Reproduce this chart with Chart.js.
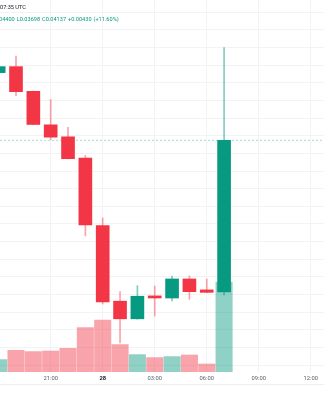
<!DOCTYPE html>
<html>
<head>
<meta charset="utf-8">
<script src="https://cdn.jsdelivr.net/npm/chart.js@4.4.1/dist/chart.umd.min.js"></script>
<style>
  html, body { margin: 0; padding: 0; background: #fff; }
  #wrap { position: relative; width: 324px; height: 400px; overflow: hidden; }
  .hdr { position: absolute; left: 0; font-family: Roboto, "Liberation Sans", sans-serif; font-size: 5.6px; white-space: nowrap; }
  #l1 { top: 3.5px; color: #131722; }
  #l2 { top: 15.5px; left: -1px; color: #089981; word-spacing: 0.6px; }
</style>
</head>
<body>
<div id="wrap">
  <canvas id="chart" width="324" height="400"></canvas>
  <div class="hdr" id="l1">07:35 UTC</div>
  <div class="hdr" id="l2">04400 L0.03698 C0.04137 +0.00430 (+11.60%)</div>
</div>
<script>
// hourly candles, hour 0 = 28th 00:00 UTC
const hours  = [-6, -5, -4, -3, -2, -1, 0, 1, 2, 3, 4, 5, 6, 7];
const opens  = [0.04329, 0.04346, 0.04276, 0.04181, 0.04147, 0.04087, 0.03895, 0.03681, 0.03631, 0.03696, 0.03690, 0.03744, 0.03713, 0.03707];
const highs  = [0.04352, 0.04376, 0.04277, 0.04253, 0.04174, 0.04094, 0.03917, 0.03708, 0.03725, 0.03724, 0.03752, 0.03753, 0.03744, 0.04400];
const lows   = [0.04325, 0.04264, 0.04181, 0.04139, 0.04084, 0.03866, 0.03673, 0.03563, 0.03630, 0.03639, 0.03682, 0.03686, 0.03705, 0.03698];
const closes = [0.04346, 0.04275, 0.04182, 0.04146, 0.04085, 0.03897, 0.03679, 0.03631, 0.03695, 0.03690, 0.03744, 0.03708, 0.03706, 0.04137];
const volumes = [124, 217, 204, 210, 237, 444, 520, 274, 174, 144, 154, 170, 80, 900];

const UP = "#089981";
const DOWN = "#F23645";
const FONT = "Roboto, 'Liberation Sans', sans-serif";

const isUp = closes.map((c, i) => c >= opens[i]);
const candleColors = isUp.map(u => u ? UP : DOWN);
// thin wicks look washed out in the screenshot
const wickColors = isUp.map(u => u ? "rgba(8,153,129,0.5)" : "rgba(242,54,69,0.45)");
const volColors = isUp.map(u => u ? "rgba(8,153,129,0.45)" : "rgba(242,54,69,0.45)");
const lastClose = closes[closes.length - 1];

const separator = {
    id: "separator",
    afterDraw(chart) {
        const c = chart.ctx;
        c.save();
        c.strokeStyle = "#eceef1";
        c.lineWidth = 1;
        c.beginPath();
        c.moveTo(0, 384.5);
        c.lineTo(chart.width, 384.5);
        c.stroke();
        c.restore();
    }
};

new Chart(document.getElementById("chart"), {
    type: "bar",
    data: {
        datasets: [
            {
                label: "body",
                data: hours.map((h, i) => ({ x: h, y: [opens[i], closes[i]] })),
                backgroundColor: candleColors,
                barThickness: 13,
                grouped: false,
                yAxisID: "y",
                order: 1
            },
            {
                label: "wick",
                data: hours.map((h, i) => ({ x: h, y: [lows[i], highs[i]] })),
                backgroundColor: wickColors,
                barThickness: 1,
                grouped: false,
                yAxisID: "y",
                order: 2
            },
            {
                type: "line",
                label: "last",
                data: [{ x: -8, y: lastClose }, { x: 14, y: lastClose }],
                borderColor: "rgba(8,153,129,0.35)",
                borderWidth: 1,
                borderDash: [2, 2],
                pointRadius: 0,
                yAxisID: "y",
                order: 3
            },
            {
                label: "volume",
                data: hours.map((h, i) => ({ x: h, y: volumes[i] })),
                backgroundColor: volColors,
                barThickness: 16.4,
                grouped: false,
                yAxisID: "v",
                order: 4
            }
        ]
    },
    options: {
        responsive: false,
        animation: false,
        layout: { padding: 0 },
        plugins: { legend: { display: false }, tooltip: { enabled: false } },
        scales: {
            x: {
                type: "linear",
                offset: false,
                min: -5.923,
                max: 12.762,
                afterFit: s => { s.height = 28; },
                grid: { color: "#f3f3f5", drawTicks: false, offset: false },
                border: { display: false },
                ticks: {
                    stepSize: 3,
                    autoSkip: false,
                    includeBounds: false,
                    padding: 3,
                    maxRotation: 0,
                    callback: v => v === 0 ? "28" : String(((v % 24) + 24) % 24).padStart(2, "0") + ":00",
                    color: ctx => ctx.tick && ctx.tick.value === 0 ? "#131722" : "#5d606b",
                    font: ctx => ({ family: FONT, size: 5.8, weight: ctx.tick && ctx.tick.value === 0 ? "bold" : "normal" })
                }
            },
            y: {
                position: "right",
                min: 0.034802,
                max: 0.045349,
                grid: { color: "#f3f3f5", drawTicks: false },
                border: { display: false },
                ticks: { display: false, stepSize: 0.0005, includeBounds: false, maxTicksLimit: 40 }
            },
            v: {
                display: false,
                min: 0,
                max: 3720
            }
        }
    },
    plugins: [separator]
});
</script>
</body>
</html>
